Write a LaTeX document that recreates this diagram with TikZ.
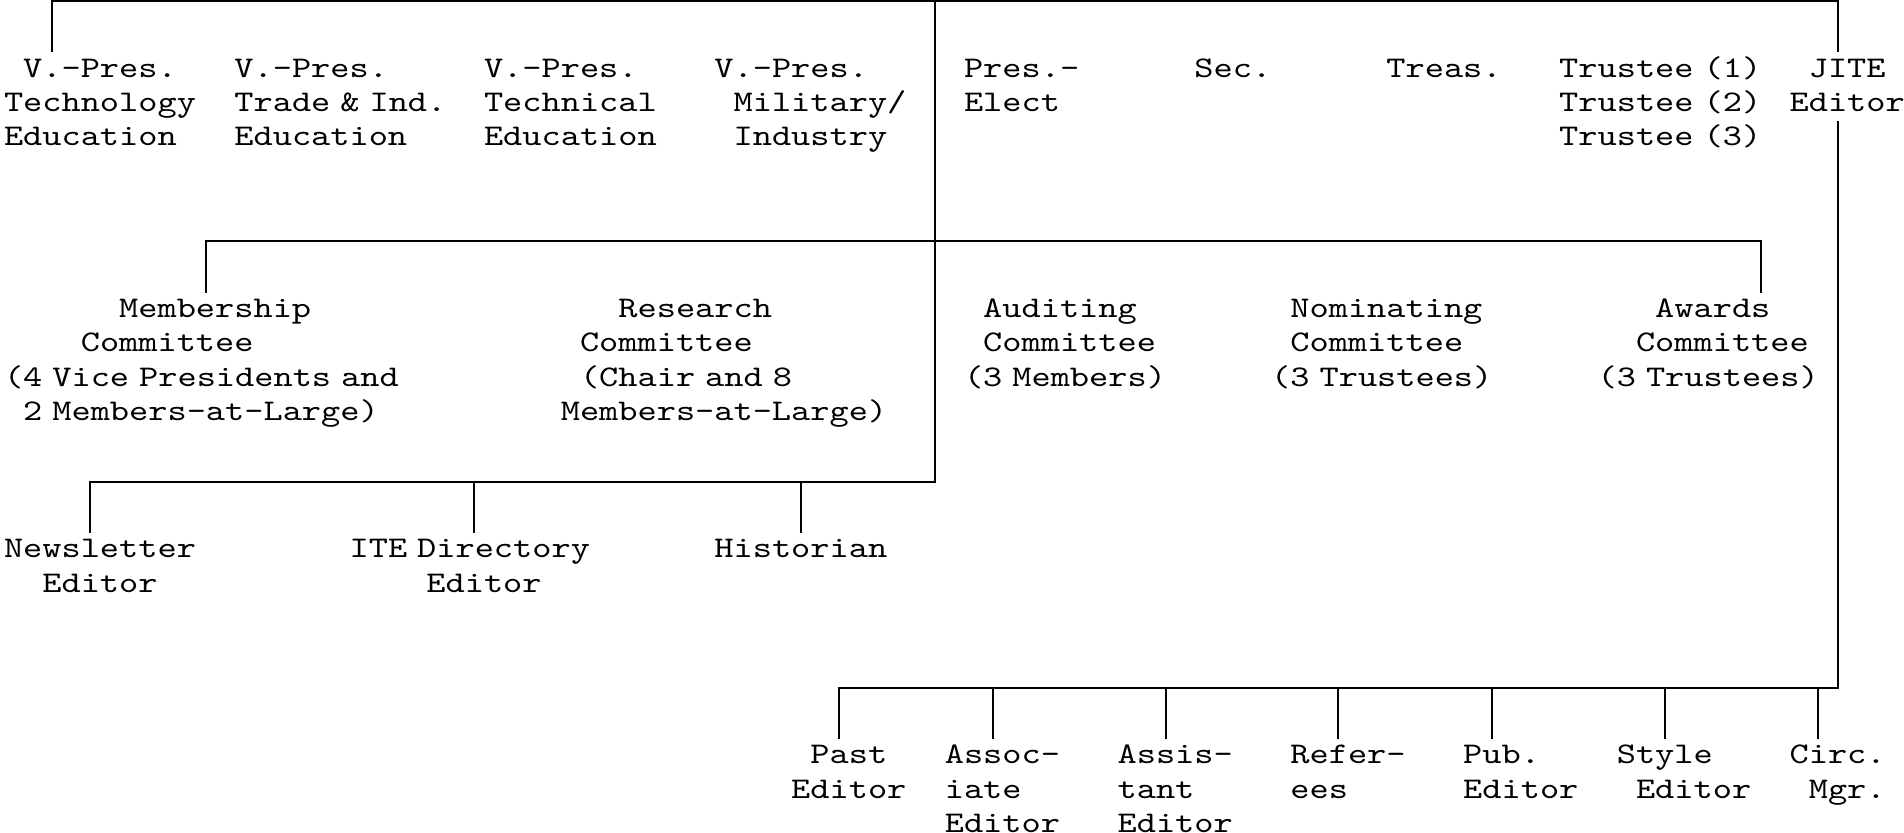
\documentclass[tikz,border=0pt]{standalone}
\usepackage{fontspec}
\newfontfamily\chartfont[FakeStretch=1.2190]{lmmono10-regular.otf}
\newlength\cw
\setlength\cw{9.6pt}
\newcommand\ind[1]{\hspace*{#1\cw}}
\tikzset{
  lbl/.style={anchor=base west, inner sep=0pt, outer sep=0pt, text width=#1, align=left,
    font=\chartfont\fontsize{15pt}{17.165pt}\selectfont},
  wire/.style={line width=0.95pt, line join=miter, draw=black}
}
\begin{document}
\begin{tikzpicture}[x=9.6pt, y=-17.165pt]
\useasboundingbox (0pt,0pt) rectangle (952pt,-416.5pt);
\begin{scope}[shift={(2pt,-0.5pt)}]
% ---- officers (row 2)
\node[lbl=106pt] (vpT)   at (0,2.2226)  {\ind{1}V.-Pres.\\Technology\\Education};
\node[lbl=125pt] (vpTI)  at (12,2.2226) {V.-Pres.\\Trade \& Ind.\\Education};
\node[lbl=106pt] (vpTE)  at (25,2.2226) {V.-Pres.\\Technical\\Education};
\node[lbl=106pt] (vpMI)  at (37,2.2226) {V.-Pres.\\\ind{1}Military/\\\ind{1}Industry};
\node[lbl=68pt]  (pres)  at (50,2.2226) {Pres.-\\Elect};
\node[lbl=48pt]  (sec)   at (62,2.2226) {Sec.};
\node[lbl=68pt]  (treas) at (72,2.2226) {Treas.};
\node[lbl=116pt] (trust) at (81,2.2226) {Trustee (1)\\Trustee (2)\\Trustee (3)};
\node[lbl=68pt]  (jite)  at (93,2.2226) {\ind{1}JITE\\Editor};
% ---- committees (row 9)
\node[lbl=221pt] (memb)  at (0,9.2226)  {\ind{6}Membership\\\ind{4}Committee\\(4 Vice Presidents and\\\ind{1}2 Members-at-Large)};
\node[lbl=183pt] (resc)  at (29,9.2226) {\ind{3}Research\\\ind{1}Committee\\\ind{1}(Chair and 8\\Members-at-Large)};
\node[lbl=116pt] (audit) at (50,9.2226) {\ind{1}Auditing\\\ind{1}Committee\\(3 Members)};
\node[lbl=125pt] (nomin) at (66,9.2226) {\ind{1}Nominating\\\ind{1}Committee\\(3 Trustees)};
\node[lbl=125pt] (award) at (83,9.2226) {\ind{3}Awards\\\ind{2}Committee\\(3 Trustees)};
% ---- appointed (row 16)
\node[lbl=106pt] (news)  at (0,16.2226)  {Newsletter\\\ind{2}Editor};
\node[lbl=135pt] (dir)   at (18,16.2226) {ITE Directory\\\ind{4}Editor};
\node[lbl=96pt]  (hist)  at (37,16.2226) {Historian};
% ---- JITE staff (row 22)
\node[lbl=68pt] (past)  at (41,22.2226) {\ind{1}Past\\Editor};
\node[lbl=68pt] (assoc) at (49,22.2226) {Assoc-\\iate\\Editor};
\node[lbl=68pt] (assis) at (58,22.2226) {Assis-\\tant\\Editor};
\node[lbl=68pt] (refer) at (67,22.2226) {Refer-\\ees};
\node[lbl=68pt] (pub)   at (76,22.2226) {Pub.\\Editor};
\node[lbl=77pt] (style) at (84,22.2226) {Style\\\ind{1}Editor};
\node[lbl=68pt] (circ)  at (93,22.2226) {Circ.\\\ind{1}Mgr.};
% ---- junction coordinates
\coordinate (t-l) at (2.5,0);
\coordinate (t-m) at (48.5,0);
\coordinate (t-r) at (95.5,0);
\coordinate (vpT-in) at (2.5,1.5);
\coordinate (jite-in) at (95.5,1.5);
\coordinate (jite-out) at (95.5,3.5);
\coordinate (c7-l) at (10.5,7);
\coordinate (c7-r) at (91.5,7);
\coordinate (memb-in) at (10.5,8.5);
\coordinate (award-in) at (91.5,8.5);
\coordinate (c14-l) at (4.5,14);
\coordinate (c14-r) at (48.5,14);
\coordinate (c14-dir) at (24.5,14);
\coordinate (c14-hist) at (41.5,14);
\coordinate (news-in) at (4.5,15.5);
\coordinate (dir-in) at (24.5,15.5);
\coordinate (hist-in) at (41.5,15.5);
\coordinate (c20-l) at (43.5,20);
\coordinate (c20-r) at (95.5,20);
\coordinate (past-in) at (43.5,21.5);
\coordinate (c20-assoc) at (51.5,20);
\coordinate (assoc-in) at (51.5,21.5);
\coordinate (c20-assis) at (60.5,20);
\coordinate (assis-in) at (60.5,21.5);
\coordinate (c20-refer) at (69.5,20);
\coordinate (refer-in) at (69.5,21.5);
\coordinate (c20-pub) at (77.5,20);
\coordinate (pub-in) at (77.5,21.5);
\coordinate (c20-style) at (86.5,20);
\coordinate (style-in) at (86.5,21.5);
\coordinate (c20-circ) at (94.5,20);
\coordinate (circ-in) at (94.5,21.5);
% ---- connectors
\draw[wire] (vpT-in) -- (t-l) -- (t-r) -- (jite-in);
\draw[wire] (t-m) -- (c14-r) -- (c14-l) -- (news-in);
\draw[wire] (memb-in) -- (c7-l) -- (c7-r) -- (award-in);
\draw[wire] (c14-dir) -- (dir-in);
\draw[wire] (c14-hist) -- (hist-in);
\draw[wire] (jite-out) -- (c20-r) -- (c20-l) -- (past-in);
\draw[wire] (c20-assoc) -- (assoc-in);
\draw[wire] (c20-assis) -- (assis-in);
\draw[wire] (c20-refer) -- (refer-in);
\draw[wire] (c20-pub) -- (pub-in);
\draw[wire] (c20-style) -- (style-in);
\draw[wire] (c20-circ) -- (circ-in);
\end{scope}
\end{tikzpicture}
\end{document}
